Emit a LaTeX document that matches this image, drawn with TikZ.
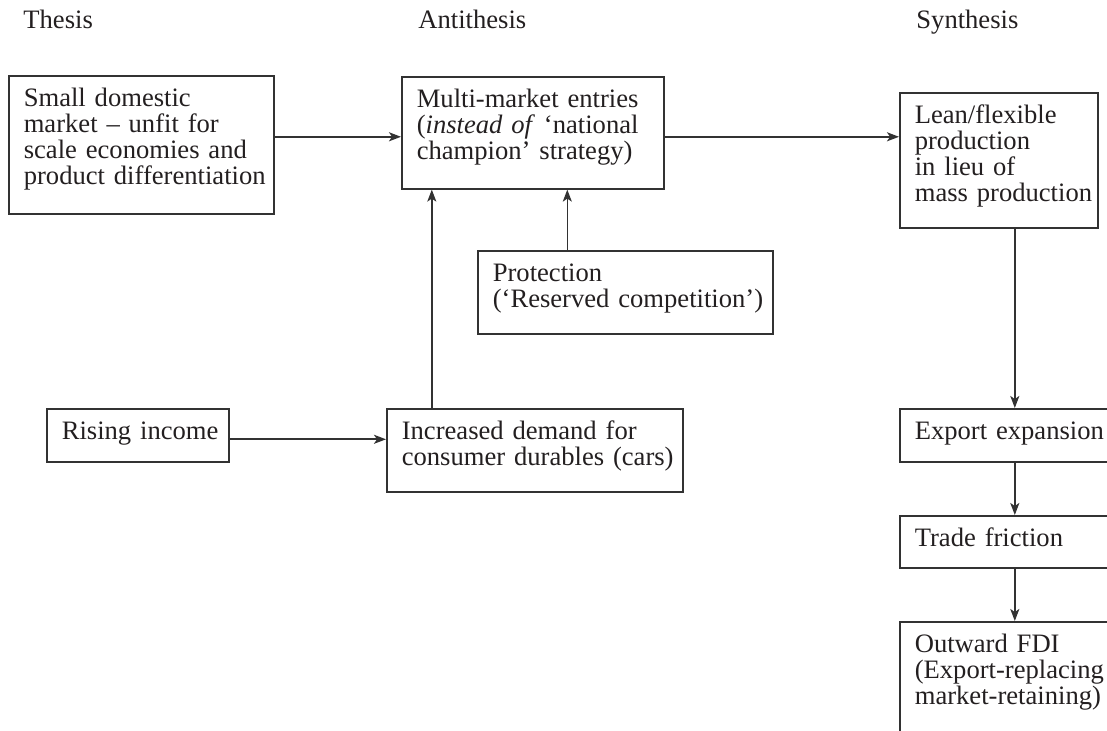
\documentclass[tikz,border=0pt]{standalone}
\usepackage{fontspec}
\setmainfont{Liberation Serif}
\usetikzlibrary{arrows.meta}
\definecolor{inkgray}{RGB}{35,31,32}
\definecolor{linegray}{RGB}{50,50,50}
\tikzset{
  stage/.style={draw=linegray, line width=0.8pt, anchor=north west, align=left,
    inner xsep=7.5pt, inner ysep=7pt, text height=8.5pt, text=inkgray,
    font=\fontsize{13.3}{13}\selectfont,
    execute at begin node={\hyphenpenalty=10000\exhyphenpenalty=10000\hfuzz=40pt\hbadness=10000}},
  phase/.style={anchor=base west, inner sep=0pt, text=inkgray,
    font=\fontsize{13.3}{13}\selectfont},
  flow/.style={draw=linegray, line width=0.8pt, -{Stealth[length=6pt,width=4.5pt,inset=1.5pt]}}
}
\begin{document}
\begin{tikzpicture}[x=0.5pt, y=-0.5pt]
    \useasboundingbox (0,0) rectangle (1107,731);
    \clip (0,0) rectangle (1107,731);

    % Column headings
    \node[phase] (thesis) at (23,29) {Thesis};
    \node[phase] (antithesis) at (418,29) {Antithesis};
    \node[phase] (synthesis) at (916,29) {Synthesis};

    % Thesis
    \node[stage, text width=117.5pt, text depth=46.5pt] (small) at (8,75)
        {Small domestic\\market -- unfit for\\scale~economies~and\\product~differentiation};
    \node[stage, text width=76pt, text depth=4pt] (rising) at (46,408) {Rising~income};

    % Antithesis
    \node[stage, text width=116pt, text depth=33.5pt] (multi) at (401,76)
        {Multi-market entries\\(\textit{instead of} `national\\champion' strategy)};
    \node[stage, text width=132.5pt, text depth=19pt] (protection) at (477,250)
        {Protection\\(`Reserved~competition')};
    \node[stage, text width=133pt, text depth=19pt] (increased) at (386,408)
        {Increased demand for\\consumer~durables~(cars)};

    % Synthesis
    \node[stage, text width=84pt, text depth=45pt] (lean) at (899,92)
        {Lean/flexible\\production\\in lieu of\\mass~production};
    \node[stage, text width=105pt, text depth=4pt] (export) at (899,408) {Export~expansion};
    \node[stage, text width=105pt, text depth=3.5pt] (trade) at (899,515) {Trade friction};
    \node[stage, text width=105pt, text depth=47.5pt] (fdi) at (899,621)
        {Outward FDI\\(Export-replacing\\market-retaining)};

    % Connectors
    \coordinate (col) at ([xshift=8pt]lean.south);
    \draw[flow] ([yshift=-2pt]multi.west -| small.east) -- ([yshift=-2pt]multi.west);
    \draw[flow] ([yshift=-2pt]multi.east) -- ([yshift=-2pt]multi.east -| lean.west);
    \draw[flow] ([xshift=-29pt]protection.north) -- ([xshift=-29pt]protection.north |- multi.south);
    \draw[flow] ([xshift=-51.5pt]increased.north) -- ([xshift=-51.5pt]increased.north |- multi.south);
    \draw[flow] ([yshift=-2pt]rising.east) -- ([yshift=-2pt]rising.east -| increased.west);
    \draw[flow] (col) -- (col |- export.north);
    \draw[flow] (col |- export.south) -- (col |- trade.north);
    \draw[flow] (col |- trade.south) -- (col |- fdi.north);
\end{tikzpicture}
\end{document}
